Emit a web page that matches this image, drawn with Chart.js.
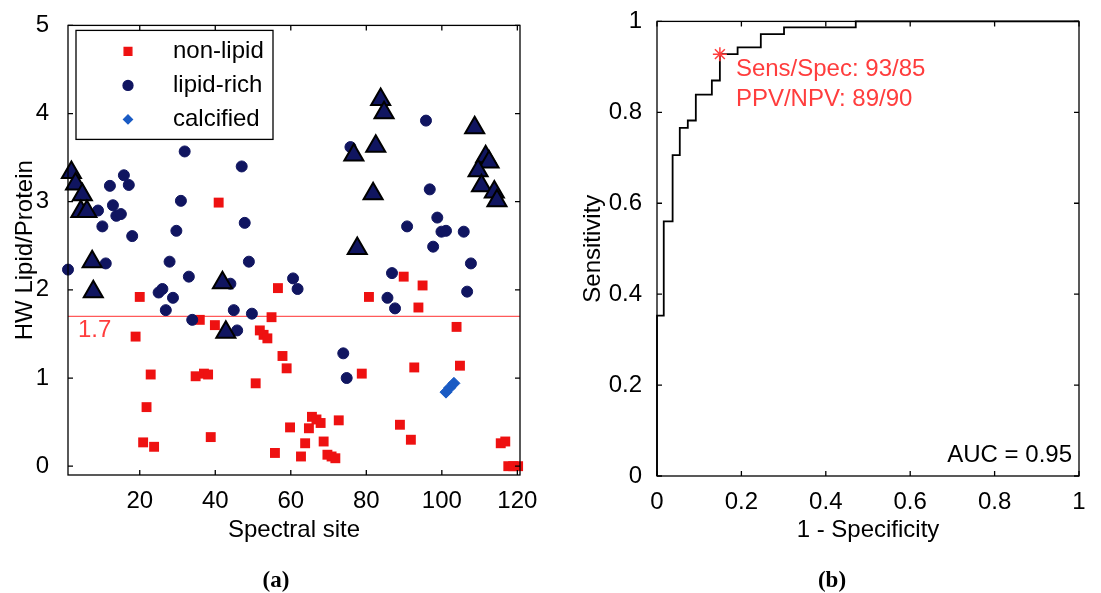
<!DOCTYPE html>
<html>
<head>
<meta charset="utf-8">
<script src="https://cdn.jsdelivr.net/npm/chart.js@4.4.1/dist/chart.umd.min.js"></script>
<style>
    body { margin: 0; background: #fff; width: 1101px; height: 593px; position: relative; overflow: hidden; }
    .panel { position: absolute; top: 0; }
    .panel canvas { display: block; }
    .letra { position: absolute; top: 580px; transform: translate(-50%, -50%); font: bold 23px "Liberation Serif", "DejaVu Serif", serif; }
</style>
</head>
<body>
<div class="panel" style="left:0; width:550px; height:593px"><canvas id="grafica-a" width="550" height="593"></canvas></div>
<div class="panel" style="left:550px; width:551px; height:593px"><canvas id="grafica-b" width="551" height="593"></canvas></div>
<div class="letra" style="left:276px">(a)</div>
<div class="letra" style="left:832px">(b)</div>

<script>
// (a) sitios espectrales
const noLipidoX = [40.9, 20.0, 18.9, 35.9, 39.9, 22.9, 34.8, 37.0, 38.1, 50.7, 21.8, 20.9, 23.8, 38.8, 56.6, 54.9, 51.8, 52.8, 53.8, 55.8,
    89.9, 94.9, 80.7, 93.8, 103.9, 57.8, 58.9, 92.7, 104.8, 78.8, 88.9, 91.8, 65.6, 66.8, 67.9, 72.7, 59.8, 64.8, 68.7, 63.8,
    62.7, 69.7, 70.8, 71.8, 115.6, 116.8, 117.6, 118.9, 120.2];
const noLipidoY = [2.99, 1.92, 1.47, 1.66, 1.60, 1.04, 1.02, 1.05, 1.04, 0.94, 0.67, 0.27, 0.22, 0.33, 2.02, 1.69, 1.54, 1.49, 1.45, 0.15,
    2.15, 2.05, 1.92, 1.80, 1.58, 1.25, 1.11, 1.12, 1.14, 1.05, 0.47, 0.30, 0.56, 0.53, 0.49, 0.52, 0.44, 0.43, 0.28, 0.26,
    0.11, 0.13, 0.11, 0.09, 0.26, 0.28, 0.0, 0.0, 0.0];

const lipidoX = [8.95, 10.1, 12.1, 12.9, 13.8, 15.0, 15.8, 17.1, 18.0, 29.7, 30.9, 31.9, 47.0, 47.8,
    75.8, 95.8, 96.8, 98.8, 90.8, 99.9, 101.1, 105.8, 97.7,
    1.0, 11.0, 27.9, 33.0, 44.0, 48.9, 25.0, 26.0, 28.8, 26.9, 33.9, 44.9, 45.8, 49.7,
    107.7, 60.6, 61.8, 86.8, 85.6, 87.6, 106.7, 73.9, 74.8];
const lipidoY = [2.90, 2.72, 3.18, 2.96, 2.84, 2.86, 3.30, 3.19, 2.61, 2.67, 3.01, 3.57, 3.40, 2.76,
    3.62, 3.92, 3.14, 2.82, 2.72, 2.66, 2.67, 2.66, 2.49,
    2.23, 2.30, 2.32, 2.15, 2.07, 2.32, 1.97, 2.01, 1.91, 1.77, 1.66, 1.77, 1.54, 1.73,
    2.30, 2.13, 2.01, 2.19, 1.91, 1.79, 1.98, 1.28, 1.00];

// sitios marcados con triangulo
const marcadosX = [1.9, 3.0, 4.8, 4.4, 6.0, 7.4, 7.7, 41.9, 42.8, 83.8, 84.7, 82.5, 76.7, 81.8, 77.6,
    108.7, 111.6, 112.5, 109.6, 110.5, 113.9, 114.6];
const marcadosY = [3.33, 3.20, 3.08, 2.89, 2.89, 2.32, 1.98, 2.08, 1.52, 4.16, 4.01, 3.63, 3.53, 3.09, 2.47,
    3.84, 3.51, 3.45, 3.35, 3.18, 3.11, 3.01];

const calcificadoX = [101.1, 102.1, 103.2];
const calcificadoY = [0.84, 0.89, 0.94];

const umbral = 1.7;
const ticksSitio = [20, 40, 60, 80, 100, 120];
const ticksRazon = [0, 1, 2, 3, 4, 5];

// (b) curva ROC
const fpr = [0, 0, 0.016, 0.037, 0.054, 0.073, 0.092, 0.130, 0.149, 0.191, 0.246, 0.301, 0.471, 1];
const tpr = [0, 0.353, 0.560, 0.706, 0.766, 0.782, 0.839, 0.870, 0.928, 0.943, 0.972, 0.987, 1, 1];
const puntoOptimo = [0.149, 0.928];
const ticksRoc = [0, 0.2, 0.4, 0.6, 0.8, 1];

const colorNoLipido = '#ee1111';
const colorLipido = '#101560';
const colorCalcificado = '#1a5bc4';
const colorTexto = '#ff3d3d';
const fuente = '"Liberation Sans", Arial, sans-serif';

Chart.defaults.font.family = fuente;
Chart.defaults.font.size = 24;
Chart.defaults.color = '#000';
Chart.defaults.animation = false;

const puntos = (xs, ys) => xs.map((x, i) => ({ x: x, y: ys[i] }));

// marco con ticks hacia adentro (estilo matlab)
const marcoPlugin = {
    id: 'marco',
    afterDraw(chart) {
        const { ctx, chartArea: a, scales } = chart;
        const largo = 5;
        ctx.save();
        ctx.strokeStyle = '#000';
        ctx.lineWidth = 1.3;
        ctx.strokeRect(a.left, a.top, a.right - a.left, a.bottom - a.top);
        ctx.beginPath();
        scales.x.ticks.forEach(t => {
            const px = scales.x.getPixelForValue(t.value);
            ctx.moveTo(px, a.bottom); ctx.lineTo(px, a.bottom - largo);
            ctx.moveTo(px, a.top); ctx.lineTo(px, a.top + largo);
        });
        scales.y.ticks.forEach(t => {
            const py = scales.y.getPixelForValue(t.value);
            ctx.moveTo(a.left, py); ctx.lineTo(a.left + largo, py);
            ctx.moveTo(a.right, py); ctx.lineTo(a.right - largo, py);
        });
        ctx.stroke();
        ctx.restore();
    }
};

const leyendaPlugin = {
    id: 'leyendaA',
    afterDraw(chart) {
        const { ctx, chartArea: a, scales } = chart;
        ctx.save();
        // etiqueta del umbral
        ctx.font = '24px ' + fuente;
        ctx.fillStyle = colorTexto;
        ctx.textBaseline = 'middle';
        ctx.fillText(String(umbral), a.left + 10, scales.y.getPixelForValue(umbral) + 14);

        const x0 = a.left + 8, y0 = a.top + 5, w = 197, h = 109;
        ctx.fillStyle = '#fff';
        ctx.fillRect(x0, y0, w, h);
        ctx.strokeStyle = '#000';
        ctx.lineWidth = 1.3;
        ctx.strokeRect(x0, y0, w, h);
        const entradas = [
            { texto: 'non-lipid', estilo: 'rect', r: 5.5, color: colorNoLipido },
            { texto: 'lipid-rich', estilo: 'circle', r: 5, color: colorLipido },
            { texto: 'calcified', estilo: 'rectRot', r: 4.5, color: colorCalcificado }
        ];
        entradas.forEach((e, i) => {
            const y = y0 + 21 + i * 34;
            ctx.fillStyle = e.color;
            ctx.strokeStyle = e.color;
            Chart.helpers.drawPoint(ctx, { pointStyle: e.estilo, radius: e.r, rotation: 0, borderWidth: 1 }, x0 + 52, y);
            ctx.fillStyle = '#000';
            ctx.fillText(e.texto, x0 + 97, y);
        });
        ctx.restore();
    }
};

const textosRocPlugin = {
    id: 'textosRoc',
    afterDraw(chart) {
        const { ctx, chartArea: a, scales } = chart;
        const px = scales.x.getPixelForValue(puntoOptimo[0]);
        const py = scales.y.getPixelForValue(puntoOptimo[1]);
        ctx.save();
        ctx.font = '24px ' + fuente;
        ctx.textBaseline = 'middle';
        ctx.fillStyle = colorTexto;
        ctx.fillText('Sens/Spec: 93/85', px + 16, py + 15);
        ctx.fillText('PPV/NPV: 89/90', px + 16, py + 45);
        ctx.fillStyle = '#000';
        ctx.textAlign = 'right';
        ctx.fillText('AUC = 0.95', a.right - 7, a.bottom - 21);
        ctx.restore();
    }
};

//* Grafica (a)
new Chart(document.getElementById('grafica-a'), {
    type: 'scatter',
    data: {
        datasets: [{
            label: 'marcados',
            data: puntos(marcadosX, marcadosY),
            pointStyle: 'triangle',
            radius: 11,
            backgroundColor: colorLipido,
            borderColor: '#000',
            borderWidth: 2,
            clip: false,
            order: 0
        }, {
            label: 'lipid-rich',
            data: puntos(lipidoX, lipidoY),
            pointStyle: 'circle',
            radius: 5.5,
            backgroundColor: colorLipido,
            borderColor: colorLipido,
            borderWidth: 1,
            clip: false,
            order: 1
        }, {
            label: 'non-lipid',
            data: puntos(noLipidoX, noLipidoY),
            pointStyle: 'rect',
            radius: 7,
            backgroundColor: colorNoLipido,
            borderColor: colorNoLipido,
            borderWidth: 0,
            clip: false,
            order: 2
        }, {
            label: 'calcified',
            data: puntos(calcificadoX, calcificadoY),
            pointStyle: 'rectRot',
            radius: 6,
            backgroundColor: colorCalcificado,
            borderColor: colorCalcificado,
            borderWidth: 1,
            clip: false,
            order: 3
        }, {
            label: 'umbral',
            data: [{ x: 1, y: umbral }, { x: 120.7, y: umbral }],
            showLine: true,
            pointRadius: 0,
            borderColor: '#ff5a5a',
            borderWidth: 1.2,
            order: 4
        }]
    },
    options: {
        responsive: false,
        events: [],
        layout: { padding: { left: 0, top: 23, right: 30, bottom: 0 } },
        plugins: { legend: { display: false }, tooltip: { enabled: false } },
        scales: {
            x: {
                type: 'linear',
                min: 1,
                max: 120.7,
                afterBuildTicks: s => { s.ticks = ticksSitio.map(v => ({ value: v })); },
                afterFit: s => { s.height = 118; },
                ticks: { padding: 4, autoSkip: false, maxRotation: 0, callback: v => String(v) },
                grid: { display: false },
                border: { display: false },
                title: { display: true, text: 'Spectral site', padding: { top: 0, bottom: 48 } }
            },
            y: {
                type: 'linear',
                min: -0.1,
                max: 5,
                afterBuildTicks: s => { s.ticks = ticksRazon.map(v => ({ value: v })); },
                afterFit: s => { s.width = 68; },
                ticks: { padding: 11, autoSkip: false, callback: v => String(v) },
                grid: { display: false },
                border: { display: false },
                title: { display: true, text: 'HW Lipid/Protein', padding: { top: 11, bottom: 0 } }
            }
        }
    },
    plugins: [marcoPlugin, leyendaPlugin]
});

//* Grafica (b)
new Chart(document.getElementById('grafica-b'), {
    type: 'line',
    data: {
        datasets: [{
            label: 'optimo',
            data: [{ x: puntoOptimo[0], y: puntoOptimo[1] }],
            showLine: false,
            pointStyle: 'star',
            pointRadius: 7,
            borderColor: colorTexto,
            backgroundColor: colorTexto,
            pointBorderWidth: 1.5,
            clip: false,
            order: 0
        }, {
            label: 'ROC',
            data: puntos(fpr, tpr),
            stepped: 'before',
            borderColor: '#000',
            borderWidth: 1.8,
            pointRadius: 0,
            fill: false,
            clip: false,
            order: 1
        }]
    },
    options: {
        responsive: false,
        events: [],
        layout: { padding: { left: 0, top: 20, right: 22, bottom: 0 } },
        plugins: { legend: { display: false }, tooltip: { enabled: false } },
        scales: {
            x: {
                type: 'linear',
                min: 0,
                max: 1,
                afterBuildTicks: s => { s.ticks = ticksRoc.map(v => ({ value: v })); },
                afterFit: s => { s.height = 117; },
                ticks: { padding: 4, autoSkip: false, maxRotation: 0, callback: v => String(v) },
                grid: { display: false },
                border: { display: false },
                title: { display: true, text: '1 - Specificity', padding: { top: 0, bottom: 48 } }
            },
            y: {
                type: 'linear',
                min: 0,
                max: 1,
                afterBuildTicks: s => { s.ticks = ticksRoc.map(v => ({ value: v })); },
                afterFit: s => { s.width = 107; },
                ticks: { padding: 7, autoSkip: false, callback: v => String(v) },
                grid: { display: false },
                border: { display: false },
                title: { display: true, text: 'Sensitivity', padding: { top: 29, bottom: 0 } }
            }
        }
    },
    plugins: [marcoPlugin, textosRocPlugin]
});
</script>
</body>
</html>
